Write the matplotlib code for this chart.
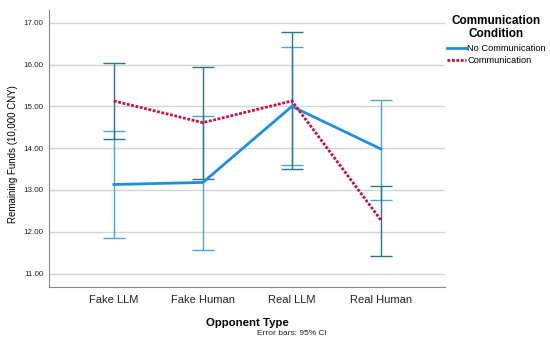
import numpy as np
import matplotlib
matplotlib.use("Agg")
from matplotlib import pyplot as plt

plt.rcParams['font.family'] = ['Liberation Sans', 'DejaVu Sans']

# data
opponents = ['Fake LLM', 'Fake Human', 'Real LLM', 'Real Human']
no_comm_mean = [13.13, 13.18, 15.00, 13.98]
no_comm_lo = [11.85, 11.57, 13.59, 12.77]
no_comm_hi = [14.41, 14.77, 16.43, 15.16]
comm_mean = [15.13, 14.61, 15.13, 12.28]
comm_lo = [14.21, 13.27, 13.49, 11.43]
comm_hi = [16.05, 15.94, 16.78, 13.09]

blue = '#1f8ee0'
blue_bar = '#4aa6e2'
teal = '#2d7780'
red = '#cc0d45'

fig = plt.figure(figsize=(5.5, 3.52), dpi=100)
ax = fig.add_axes([0.089, 0.185, 0.72, 0.787])

x = np.arange(len(opponents))
m1 = np.array(no_comm_mean)
m2 = np.array(comm_mean)
err1 = [m1 - np.array(no_comm_lo), np.array(no_comm_hi) - m1]
err2 = [m2 - np.array(comm_lo), np.array(comm_hi) - m2]

ax.errorbar(x, m1, yerr=err1, fmt='none', ecolor=blue_bar, elinewidth=1,
            capsize=8, capthick=1, zorder=3)
ax.errorbar(x, m2, yerr=err2, fmt='none', ecolor=teal, elinewidth=1,
            capsize=8, capthick=1, zorder=3)
ax.plot(x, m1, color=blue, lw=2, label='No Communication', zorder=4)
ax.plot(x, m2, color=red, lw=2, ls=(0, (1, 0.6)), label='Communication', zorder=5)

ax.set_xlim(-0.73, 3.72)
ax.set_ylim(10.68, 17.31)
ax.set_yticks(np.arange(11, 18))
ax.set_yticklabels(['%.2f' % v for v in np.arange(11, 18)])
ax.set_xticks(x)
ax.set_xticklabels(opponents)
ax.tick_params(axis='y', labelsize=5.8, length=0, pad=4, colors='#222222')
ax.tick_params(axis='x', labelsize=8, length=0, pad=6, colors='#222222')
ax.grid(axis='y', color='#d4d4d4', lw=1)
ax.set_axisbelow(True)
for s in ['top', 'right']:
    ax.spines[s].set_visible(False)
for s in ['left', 'bottom']:
    ax.spines[s].set_color('#888888')

ax.set_ylabel('Remaining Funds (10,000 CNY)', fontsize=7)
ax.yaxis.set_label_coords(-0.078, 0.48)
ax.set_xlabel('Opponent Type', fontsize=8.2, fontweight='bold', labelpad=9)

# legend title drawn separately so its spacing can match
fig.text(0.902, 0.921, 'Communication\nCondition', fontsize=8.5, fontweight='bold',
         ha='center', va='center', multialignment='center', linespacing=1.15)
leg = fig.legend(loc='upper left', bbox_to_anchor=(447 / 550, 1 - 44 / 352),
                 frameon=False, fontsize=6.7, handlelength=2.0,
                 handletextpad=0.2, labelspacing=0.35, borderaxespad=0, borderpad=0)

fig.text(0.53, 0.052, 'Error bars: 95% CI', fontsize=6, ha='center', va='center',
         color='#222222')

fig.savefig('out.png', dpi=100)
